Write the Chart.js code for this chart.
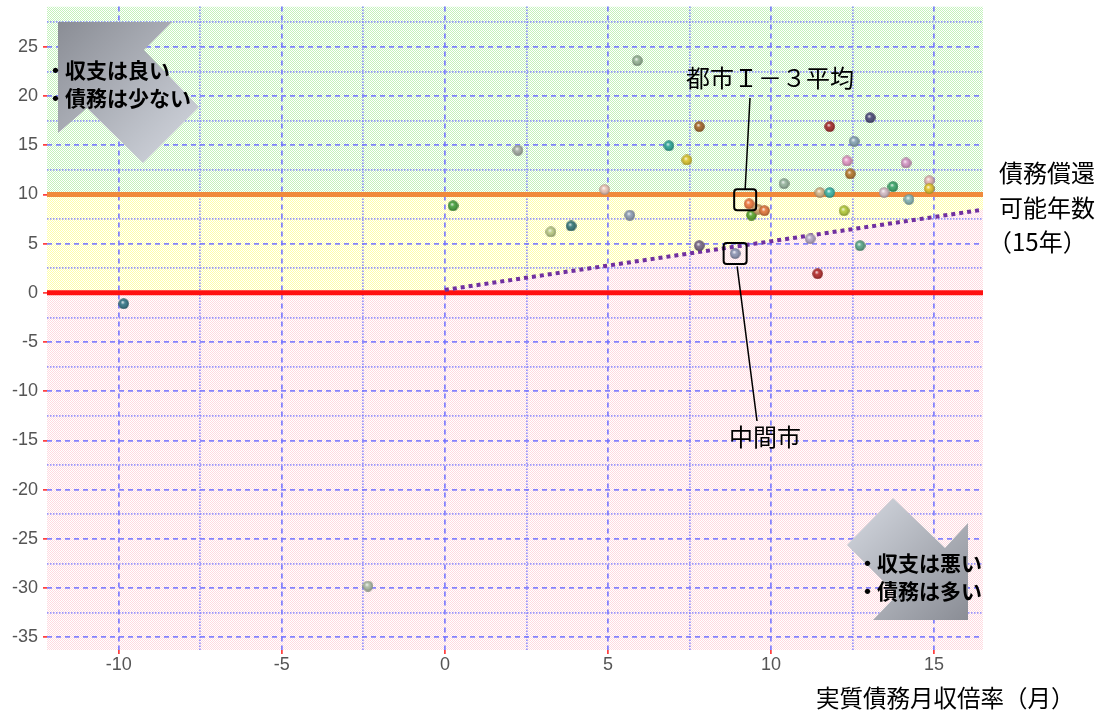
<!DOCTYPE html>
<html>
<head>
<meta charset="utf-8">
<script src="https://cdn.jsdelivr.net/npm/chart.js@4.4.1/dist/chart.umd.min.js"></script>
<style>
  body { margin: 0; background: #fff; }
  #wrap { width: 1116px; height: 715px; }
</style>
</head>
<body>
<div id="wrap"><canvas id="chart"></canvas></div>
<script>
// 実質債務月収倍率（月）
const xValues = [-9.85, -2.36, 0.25, 2.24, 5.9, 3.25, 3.87, 5.67, 4.9, 6.87,
                 7.42, 7.8, 7.8, 9.33, 9.4, 9.6, 9.8, 8.9, 10.4, 11.2,
                 11.43, 11.5, 11.8, 11.8, 12.24, 12.33, 12.43, 12.55, 12.73, 13.04,
                 13.47, 13.74, 14.14, 14.23, 14.85, 14.85];
// 縦軸の値
const yValues = [-1.1, -29.8, 8.85, 14.5, 23.6, 6.2, 6.8, 7.9, 10.5, 14.95,
                 13.5, 16.9, 4.8, 9.05, 7.9, 8.5, 8.35, 4.0, 11.1, 5.5,
                 1.95, 10.2, 10.2, 16.9, 8.35, 13.4, 12.1, 15.4, 4.8, 17.8,
                 10.2, 10.8, 13.2, 9.5, 11.4, 10.6];
const pointColors = ['#2a6e80', '#a8b8a0', '#3a9a30', '#a0a8a0', '#90b090', '#b8c880', '#2a7070', '#8898b0', '#e8c0b0', '#20a090',
                     '#d8c020', '#a06020', '#706080', '#f07030', '#50a020', '#d0a060', '#e07030', '#8890b0', '#90b098', '#b0a0c0',
                     '#b02020', '#d0b080', '#30b0a0', '#a02020', '#b0c830', '#e090c0', '#b07020', '#80a0b0', '#50a080', '#404070',
                     '#d0b8c0', '#30a060', '#d090c0', '#80b0b0', '#e0b0b0', '#e0c020'];
const avgIndex = 13;   // 都市Ｉ－３平均
const midIndex = 17;   // 中間市

const xTicks = [-10, -7.5, -5, -2.5, 0, 2.5, 5, 7.5, 10, 12.5, 15];
const yTicks = [-35, -32.5, -30, -27.5, -25, -22.5, -20, -17.5, -15, -12.5, -10, -7.5, -5, -2.5,
                0, 2.5, 5, 7.5, 10, 12.5, 15, 17.5, 20, 22.5, 25, 27.5];
const xMin = -12.2, xMax = 16.5, yMin = -36.3, yMax = 29.1;

const repayLine = 10;   // 債務償還可能年数（15年）
const zeroLine = 0;
const diagX = [0, 16.5];
const diagY = [0.3, 8.45];

function sphere(col) {
    const s = 11;
    const c = document.createElement('canvas');
    c.width = s; c.height = s;
    const g = c.getContext('2d');
    g.beginPath();
    g.arc(s / 2, s / 2, s / 2 - 0.3, 0, Math.PI * 2);
    g.fillStyle = col;
    g.fill();
    const grd = g.createRadialGradient(s * 0.4, s * 0.36, 0.3, s / 2, s / 2, s / 2);
    grd.addColorStop(0, 'rgba(255,255,255,0.85)');
    grd.addColorStop(0.35, 'rgba(255,255,255,0.1)');
    grd.addColorStop(1, 'rgba(0,0,0,0.35)');
    g.fillStyle = grd;
    g.fill();
    return c;
}

function dotPattern(ctx, col) {
    const c = document.createElement('canvas');
    c.width = 2; c.height = 2;
    const g = c.getContext('2d');
    g.fillStyle = '#ffffff';
    g.fillRect(0, 0, 2, 2);
    g.fillStyle = col;
    g.fillRect(0, 0, 1, 1);
    g.fillRect(1, 1, 1, 1);
    return ctx.createPattern(c, 'repeat');
}

const zones = {
    id: 'zones',
    beforeDraw(chart) {
        const { ctx, chartArea: a, scales: { x, y } } = chart;
        const yr = y.getPixelForValue(repayLine);
        const y0 = y.getPixelForValue(zeroLine);
        ctx.save();
        ctx.beginPath();
        ctx.rect(a.left, a.top, a.right - a.left, a.bottom - a.top);
        ctx.clip();
        ctx.fillStyle = dotPattern(ctx, '#c4f2bc');
        ctx.fillRect(a.left, a.top, a.right - a.left, yr - a.top);
        ctx.fillStyle = dotPattern(ctx, '#ffffa8');
        ctx.fillRect(a.left, yr, a.right - a.left, y0 - yr);
        ctx.fillStyle = dotPattern(ctx, '#ffdae0');
        ctx.fillRect(a.left, y0, a.right - a.left, a.bottom - y0);
        ctx.beginPath();
        ctx.moveTo(x.getPixelForValue(diagX[0]), y0);
        ctx.lineTo(x.getPixelForValue(diagX[0]), y.getPixelForValue(diagY[0]));
        ctx.lineTo(x.getPixelForValue(diagX[1]), y.getPixelForValue(diagY[1]));
        ctx.lineTo(x.getPixelForValue(diagX[1]), y0);
        ctx.closePath();
        ctx.fill();
        ctx.restore();
    }
};

function arrow(ctx, pts, g0, g1, dark) {
    const grd = ctx.createLinearGradient(g0[0], g0[1], g1[0], g1[1]);
    grd.addColorStop(0, dark ? '#8a8d95' : '#d6dae2');
    grd.addColorStop(1, dark ? '#d6dae2' : '#8a8d95');
    ctx.beginPath();
    ctx.moveTo(pts[0][0], pts[0][1]);
    for (let i = 1; i < pts.length; i++) ctx.lineTo(pts[i][0], pts[i][1]);
    ctx.closePath();
    ctx.fillStyle = grd;
    ctx.fill();
}

function roundBox(ctx, cx, cy, w, h, r) {
    const x = cx - w / 2, y = cy - h / 2;
    ctx.beginPath();
    ctx.moveTo(x + r, y);
    ctx.arcTo(x + w, y, x + w, y + h, r);
    ctx.arcTo(x + w, y + h, x, y + h, r);
    ctx.arcTo(x, y + h, x, y, r);
    ctx.arcTo(x, y, x + w, y, r);
    ctx.closePath();
    ctx.stroke();
}

const notes = {
    id: 'notes',
    afterDraw(chart) {
        const { ctx, scales: { x, y } } = chart;
        ctx.save();
        arrow(ctx, [[58, 22], [172, 22], [144, 50], [199, 107], [143, 163], [87, 108], [58, 133]], [58, 22], [199, 163], true);
        arrow(ctx, [[893, 498], [945, 548], [968, 523], [968, 620], [873, 620], [897, 595], [847, 545]], [847, 498], [968, 620], false);

        ctx.fillStyle = '#000';
        ctx.textBaseline = 'middle';
        ctx.font = 'bold 21px "Noto Sans CJK JP"';
        ctx.fillText('・', 45, 70);
        ctx.fillText('収支は良い', 65, 70);
        ctx.fillText('・', 45, 98);
        ctx.fillText('債務は少ない', 65, 98);
        ctx.fillText('・', 857, 563);
        ctx.fillText('収支は悪い', 877, 563);
        ctx.fillText('・', 857, 591);
        ctx.fillText('債務は多い', 877, 591);

        ctx.font = '24px "Noto Sans CJK JP"';
        ctx.fillText('都市Ｉ－３平均', 686, 78);
        ctx.fillText('中間市', 729, 437);
        ctx.fillText('債務償還', 999, 173);
        ctx.fillText('可能年数', 999, 208);
        ctx.fillText('（15年）', 988, 242);
        ctx.font = '23.5px "Noto Sans CJK JP"';
        ctx.fillText('実質債務月収倍率（月）', 816, 698);

        // 強調枠と引き出し線
        ctx.strokeStyle = '#000';
        ctx.lineWidth = 2;
        const ax = x.getPixelForValue(xValues[avgIndex]) - 4;
        const ay = y.getPixelForValue(yValues[avgIndex]) - 4;
        roundBox(ctx, ax, ay, 22, 21, 3);
        const mx = x.getPixelForValue(xValues[midIndex]);
        const my = y.getPixelForValue(yValues[midIndex]);
        roundBox(ctx, mx, my, 23, 21, 3);
        ctx.lineWidth = 1.5;
        ctx.beginPath();
        ctx.moveTo(750, 98);
        ctx.lineTo(ax, ay - 10.5);
        ctx.moveTo(mx + 2, my + 13);
        ctx.lineTo(757, 421);
        ctx.stroke();
        ctx.restore();
    }
};

const points = xValues.map((v, i) => ({ x: v, y: yValues[i] }));
const ctx = document.getElementById('chart').getContext('2d');

const isMajor = (v) => Math.abs(v % 5) < 1e-6;
function axisGrid() {
    return {
        color: (c) => (c.tick && isMajor(c.tick.value)) ? 'rgba(110,110,255,0.85)' : 'rgba(120,120,255,0.75)',
        lineWidth: 1.8,
        tickColor: (c) => (c.tick && isMajor(c.tick.value)) ? '#ff2020' : 'rgba(0,0,0,0)',
        tickLength: 4,
        tickWidth: 1.5,
        tickBorderDash: []
    };
}
const gridDash = (c) => (c.tick && isMajor(c.tick.value)) ? [5, 4] : [1.5, 1.5];

new Chart(ctx, {
    data: {
        datasets: [
            {
                type: 'scatter',
                data: points,
                pointStyle: pointColors.map(sphere),
                pointRadius: 5.5,
                pointHoverRadius: 5.5
            },
            {
                type: 'line',
                data: [{ x: diagX[0], y: diagY[0] }, { x: diagX[1], y: diagY[1] }],
                borderColor: '#7030a0',
                borderWidth: 4,
                borderDash: [4, 4],
                pointRadius: 0
            },
            {
                type: 'line',
                data: [{ x: xMin, y: repayLine }, { x: xMax, y: repayLine }],
                borderColor: '#f08a3c',
                borderWidth: 5,
                pointRadius: 0
            },
            {
                type: 'line',
                data: [{ x: xMin, y: zeroLine }, { x: xMax, y: zeroLine }],
                borderColor: '#ff1010',
                borderWidth: 5,
                pointRadius: 0
            }
        ]
    },
    options: {
        responsive: true,
        maintainAspectRatio: false,
        animation: false,
        layout: { padding: { top: 5, right: 133, left: 0, bottom: 0 } },
        plugins: { legend: { display: false }, tooltip: { enabled: false } },
        scales: {
            x: {
                type: 'linear',
                min: xMin,
                max: xMax,
                afterBuildTicks: (s) => { s.ticks = xTicks.map(v => ({ value: v })); },
                afterFit: (s) => { s.height = 65; s.paddingLeft = 0; s.paddingRight = 0; },
                ticks: {
                    callback: (v) => isMajor(v) ? String(v) : '',
                    color: '#555',
                    font: { family: '"Liberation Sans"', size: 18 },
                    padding: 0,
                    maxRotation: 0,
                    autoSkip: false
                },
                grid: axisGrid(),
                border: { display: false, dash: gridDash }
            },
            y: {
                type: 'linear',
                min: yMin,
                max: yMax,
                afterBuildTicks: (s) => { s.ticks = yTicks.map(v => ({ value: v })); },
                afterFit: (s) => { s.width = 47; s.paddingTop = 0; s.paddingBottom = 0; },
                ticks: {
                    callback: (v) => isMajor(v) ? String(v) : '',
                    color: '#555',
                    font: { family: '"Liberation Sans"', size: 18 },
                    padding: 5,
                    autoSkip: false
                },
                grid: axisGrid(),
                border: { display: false, dash: gridDash }
            }
        }
    },
    plugins: [zones, notes]
});
</script>
</body>
</html>
